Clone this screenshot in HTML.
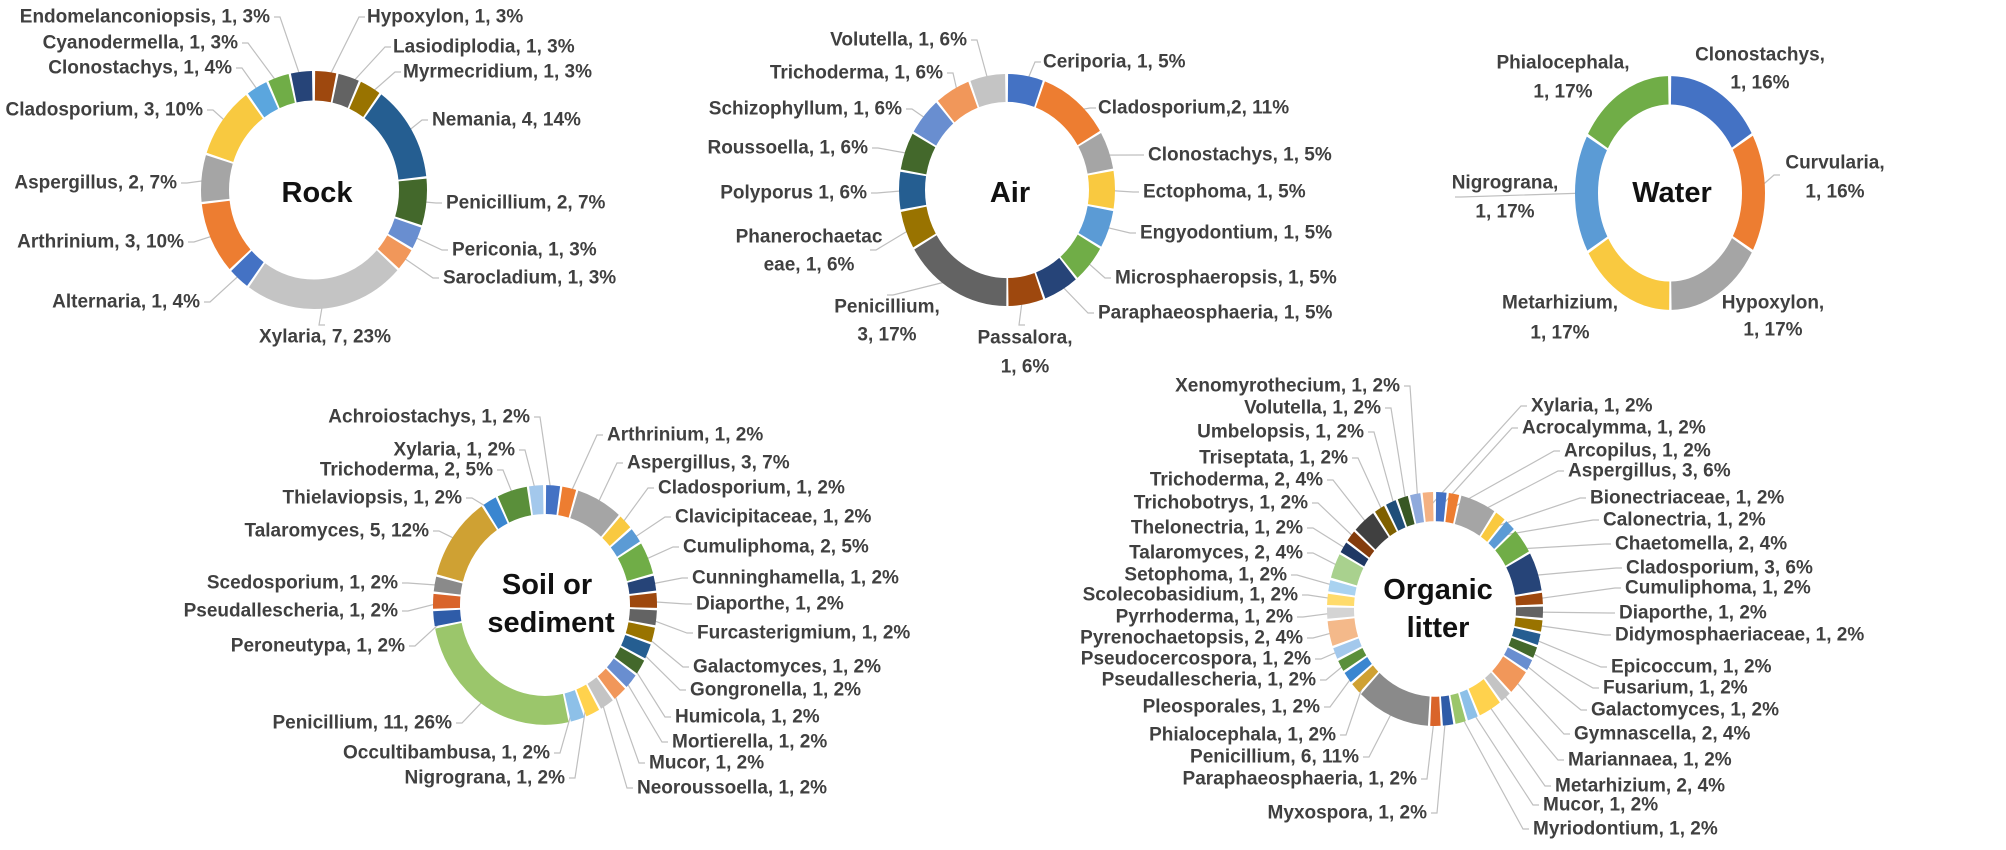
<!DOCTYPE html>
<html><head><meta charset="utf-8"><style>
html,body{margin:0;padding:0;background:#fff;}
svg{display:block;}
text{font-family:"Liberation Sans",sans-serif;font-weight:bold;font-size:19px;fill:#404040;dominant-baseline:central;}
.t{font-size:29px;fill:#111;text-anchor:middle;}
.e{text-anchor:end;}
.m{text-anchor:middle;}
circle{fill:none;}
</style></head><body>
<svg id="s" width="2006" height="850" viewBox="0 0 2006 850" xmlns="http://www.w3.org/2000/svg">
<rect width="2006" height="850" fill="#fff"/>
<g id="lines" stroke="#BFBFBF" stroke-width="1.2" fill="none"></g>

<!-- ROCK -->
<g transform="translate(314,190) scale(1,1.053) rotate(-90)" stroke-width="28">
<circle r="99" pathLength="30" stroke="#9E480E" stroke-dasharray="0.9 30" stroke-dashoffset="-0.05"/>
<circle r="99" pathLength="30" stroke="#636363" stroke-dasharray="0.9 30" stroke-dashoffset="-1.05"/>
<circle r="99" pathLength="30" stroke="#997300" stroke-dasharray="0.9 30" stroke-dashoffset="-2.05"/>
<circle r="99" pathLength="30" stroke="#255E91" stroke-dasharray="3.9 30" stroke-dashoffset="-3.05"/>
<circle r="99" pathLength="30" stroke="#43682B" stroke-dasharray="1.9 30" stroke-dashoffset="-7.05"/>
<circle r="99" pathLength="30" stroke="#698ED0" stroke-dasharray="0.9 30" stroke-dashoffset="-9.05"/>
<circle r="99" pathLength="30" stroke="#F1975A" stroke-dasharray="0.9 30" stroke-dashoffset="-10.05"/>
<circle r="99" pathLength="30" stroke="#C4C4C4" stroke-dasharray="6.9 30" stroke-dashoffset="-11.05"/>
<circle r="99" pathLength="30" stroke="#4472C4" stroke-dasharray="0.9 30" stroke-dashoffset="-18.05"/>
<circle r="99" pathLength="30" stroke="#ED7D31" stroke-dasharray="2.9 30" stroke-dashoffset="-19.05"/>
<circle r="99" pathLength="30" stroke="#A5A5A5" stroke-dasharray="1.9 30" stroke-dashoffset="-22.05"/>
<circle r="99" pathLength="30" stroke="#F8C940" stroke-dasharray="2.9 30" stroke-dashoffset="-24.05"/>
<circle r="99" pathLength="30" stroke="#5BA6DE" stroke-dasharray="0.9 30" stroke-dashoffset="-27.05"/>
<circle r="99" pathLength="30" stroke="#70AD47" stroke-dasharray="0.9 30" stroke-dashoffset="-28.05"/>
<circle r="99" pathLength="30" stroke="#264478" stroke-dasharray="0.9 30" stroke-dashoffset="-29.05"/>
</g>
<text class="t" x="317" y="193">Rock</text>
<text class="e" x="270" y="17">Endomelanconiopsis, 1, 3%</text>
<text class="e" x="238" y="43">Cyanodermella, 1, 3%</text>
<text class="e" x="232" y="68">Clonostachys, 1, 4%</text>
<text class="e" x="203" y="110">Cladosporium, 3, 10%</text>
<text class="e" x="177" y="183">Aspergillus, 2, 7%</text>
<text class="e" x="184" y="242">Arthrinium, 3, 10%</text>
<text class="e" x="200" y="302">Alternaria, 1, 4%</text>
<text class="m" x="325" y="337">Xylaria, 7, 23%</text>
<text x="367" y="17">Hypoxylon, 1, 3%</text>
<text x="393" y="47">Lasiodiplodia, 1, 3%</text>
<text x="403" y="72">Myrmecridium, 1, 3%</text>
<text x="432" y="120">Nemania, 4, 14%</text>
<text x="446" y="203">Penicillium,  2, 7%</text>
<text x="452" y="250">Periconia, 1, 3%</text>
<text x="443" y="278">Sarocladium, 1, 3%</text>

<!-- AIR -->
<g transform="translate(1007,190) scale(1,1.074) rotate(-90)" stroke-width="26">
<circle r="95" pathLength="18" stroke="#4472C4" stroke-dasharray="0.94 18" stroke-dashoffset="-0.03"/>
<circle r="95" pathLength="18" stroke="#ED7D31" stroke-dasharray="1.94 18" stroke-dashoffset="-1.03"/>
<circle r="95" pathLength="18" stroke="#A5A5A5" stroke-dasharray="0.94 18" stroke-dashoffset="-3.03"/>
<circle r="95" pathLength="18" stroke="#F9C940" stroke-dasharray="0.94 18" stroke-dashoffset="-4.03"/>
<circle r="95" pathLength="18" stroke="#5B9BD5" stroke-dasharray="0.94 18" stroke-dashoffset="-5.03"/>
<circle r="95" pathLength="18" stroke="#70AD47" stroke-dasharray="0.94 18" stroke-dashoffset="-6.03"/>
<circle r="95" pathLength="18" stroke="#264478" stroke-dasharray="0.94 18" stroke-dashoffset="-7.03"/>
<circle r="95" pathLength="18" stroke="#9E480E" stroke-dasharray="0.94 18" stroke-dashoffset="-8.03"/>
<circle r="95" pathLength="18" stroke="#636363" stroke-dasharray="2.94 18" stroke-dashoffset="-9.03"/>
<circle r="95" pathLength="18" stroke="#997300" stroke-dasharray="0.94 18" stroke-dashoffset="-12.03"/>
<circle r="95" pathLength="18" stroke="#255E91" stroke-dasharray="0.94 18" stroke-dashoffset="-13.03"/>
<circle r="95" pathLength="18" stroke="#43682B" stroke-dasharray="0.94 18" stroke-dashoffset="-14.03"/>
<circle r="95" pathLength="18" stroke="#698ED0" stroke-dasharray="0.94 18" stroke-dashoffset="-15.03"/>
<circle r="95" pathLength="18" stroke="#F1975A" stroke-dasharray="0.94 18" stroke-dashoffset="-16.03"/>
<circle r="95" pathLength="18" stroke="#C4C4C4" stroke-dasharray="0.94 18" stroke-dashoffset="-17.03"/>
</g>
<text class="t" x="1010" y="193">Air</text>
<text class="e" x="967" y="40">Volutella, 1, 6%</text>
<text class="e" x="943" y="73">Trichoderma, 1, 6%</text>
<text class="e" x="902" y="109">Schizophyllum, 1, 6%</text>
<text class="e" x="868" y="148">Roussoella, 1, 6%</text>
<text class="e" x="867" y="193">Polyporus 1, 6%</text>
<text class="m" x="809" y="237">Phanerochaetac</text>
<text class="m" x="809" y="265">eae,  1, 6%</text>
<text class="m" x="887" y="307">Penicillium,</text>
<text class="m" x="887" y="335">3, 17%</text>
<text class="m" x="1025" y="338">Passalora,</text>
<text class="m" x="1025" y="367">1, 6%</text>
<text x="1043" y="62">Ceriporia, 1, 5%</text>
<text x="1098" y="108">Cladosporium,2, 11%</text>
<text x="1148" y="155">Clonostachys,  1, 5%</text>
<text x="1143" y="192">Ectophoma, 1, 5%</text>
<text x="1140" y="233">Engyodontium, 1, 5%</text>
<text x="1115" y="278">Microsphaeropsis, 1, 5%</text>
<text x="1098" y="313">Paraphaeosphaeria, 1, 5%</text>

<!-- WATER -->
<g transform="translate(1670,193) scale(1,1.23) rotate(-90)" stroke-width="23">
<circle r="83.5" pathLength="6" stroke="#4472C4" stroke-dasharray="0.975 6" stroke-dashoffset="-0.0125"/>
<circle r="83.5" pathLength="6" stroke="#ED7D31" stroke-dasharray="0.975 6" stroke-dashoffset="-1.0125"/>
<circle r="83.5" pathLength="6" stroke="#A5A5A5" stroke-dasharray="0.975 6" stroke-dashoffset="-2.0125"/>
<circle r="83.5" pathLength="6" stroke="#F9C940" stroke-dasharray="0.975 6" stroke-dashoffset="-3.0125"/>
<circle r="83.5" pathLength="6" stroke="#5B9BD5" stroke-dasharray="0.975 6" stroke-dashoffset="-4.0125"/>
<circle r="83.5" pathLength="6" stroke="#70AD47" stroke-dasharray="0.975 6" stroke-dashoffset="-5.0125"/>
</g>
<text class="t" x="1672" y="193">Water</text>
<text class="m" x="1563" y="63">Phialocephala,</text>
<text class="m" x="1563" y="92">1, 17%</text>
<text class="m" x="1760" y="55">Clonostachys,</text>
<text class="m" x="1760" y="83">1, 16%</text>
<text class="m" x="1835" y="163">Curvularia,</text>
<text class="m" x="1835" y="192">1, 16%</text>
<text class="m" x="1505" y="183">Nigrograna,</text>
<text class="m" x="1505" y="212">1, 17%</text>
<text class="m" x="1560" y="303">Metarhizium,</text>
<text class="m" x="1560" y="333">1, 17%</text>
<text class="m" x="1773" y="303">Hypoxylon,</text>
<text class="m" x="1773" y="330">1, 17%</text>

<!-- SOIL -->
<g transform="translate(545,605) scale(1,1.07) rotate(-90)" stroke-width="27">
<circle r="98.5" pathLength="43" stroke="#4472C4" stroke-dasharray="0.86 43" stroke-dashoffset="-0.07"/>
<circle r="98.5" pathLength="43" stroke="#ED7D31" stroke-dasharray="0.86 43" stroke-dashoffset="-1.07"/>
<circle r="98.5" pathLength="43" stroke="#A5A5A5" stroke-dasharray="2.86 43" stroke-dashoffset="-2.07"/>
<circle r="98.5" pathLength="43" stroke="#F9C940" stroke-dasharray="0.86 43" stroke-dashoffset="-5.07"/>
<circle r="98.5" pathLength="43" stroke="#5B9BD5" stroke-dasharray="0.86 43" stroke-dashoffset="-6.07"/>
<circle r="98.5" pathLength="43" stroke="#70AD47" stroke-dasharray="1.86 43" stroke-dashoffset="-7.07"/>
<circle r="98.5" pathLength="43" stroke="#264478" stroke-dasharray="0.86 43" stroke-dashoffset="-9.07"/>
<circle r="98.5" pathLength="43" stroke="#9E480E" stroke-dasharray="0.86 43" stroke-dashoffset="-10.07"/>
<circle r="98.5" pathLength="43" stroke="#636363" stroke-dasharray="0.86 43" stroke-dashoffset="-11.07"/>
<circle r="98.5" pathLength="43" stroke="#997300" stroke-dasharray="0.86 43" stroke-dashoffset="-12.07"/>
<circle r="98.5" pathLength="43" stroke="#255E91" stroke-dasharray="0.86 43" stroke-dashoffset="-13.07"/>
<circle r="98.5" pathLength="43" stroke="#43682B" stroke-dasharray="0.86 43" stroke-dashoffset="-14.07"/>
<circle r="98.5" pathLength="43" stroke="#698ED0" stroke-dasharray="0.86 43" stroke-dashoffset="-15.07"/>
<circle r="98.5" pathLength="43" stroke="#F1975A" stroke-dasharray="0.86 43" stroke-dashoffset="-16.07"/>
<circle r="98.5" pathLength="43" stroke="#C4C4C4" stroke-dasharray="0.86 43" stroke-dashoffset="-17.07"/>
<circle r="98.5" pathLength="43" stroke="#FFD24D" stroke-dasharray="0.86 43" stroke-dashoffset="-18.07"/>
<circle r="98.5" pathLength="43" stroke="#8DC0E8" stroke-dasharray="0.86 43" stroke-dashoffset="-19.07"/>
<circle r="98.5" pathLength="43" stroke="#9BC66B" stroke-dasharray="10.86 43" stroke-dashoffset="-20.07"/>
<circle r="98.5" pathLength="43" stroke="#2F5CA8" stroke-dasharray="0.86 43" stroke-dashoffset="-31.07"/>
<circle r="98.5" pathLength="43" stroke="#D9642A" stroke-dasharray="0.86 43" stroke-dashoffset="-32.07"/>
<circle r="98.5" pathLength="43" stroke="#8A8A8A" stroke-dasharray="0.86 43" stroke-dashoffset="-33.07"/>
<circle r="98.5" pathLength="43" stroke="#CFA133" stroke-dasharray="4.86 43" stroke-dashoffset="-34.07"/>
<circle r="98.5" pathLength="43" stroke="#3A86D0" stroke-dasharray="0.86 43" stroke-dashoffset="-39.07"/>
<circle r="98.5" pathLength="43" stroke="#5A8F3A" stroke-dasharray="1.86 43" stroke-dashoffset="-40.07"/>
<circle r="98.5" pathLength="43" stroke="#A3C8EC" stroke-dasharray="0.86 43" stroke-dashoffset="-42.07"/>
</g>
<text class="t" x="547" y="585">Soil or</text>
<text class="t" x="551" y="623">sediment</text>
<text class="e" x="530" y="417">Achroiostachys, 1, 2%</text>
<text class="e" x="515" y="450">Xylaria, 1, 2%</text>
<text class="e" x="493" y="470">Trichoderma, 2, 5%</text>
<text class="e" x="462" y="498">Thielaviopsis, 1, 2%</text>
<text class="e" x="429" y="531">Talaromyces, 5, 12%</text>
<text class="e" x="398" y="583">Scedosporium, 1, 2%</text>
<text class="e" x="398" y="611">Pseudallescheria, 1, 2%</text>
<text class="e" x="405" y="646">Peroneutypa, 1, 2%</text>
<text class="e" x="452" y="723">Penicillium, 11, 26%</text>
<text class="e" x="550" y="753">Occultibambusa, 1, 2%</text>
<text class="e" x="565" y="778">Nigrograna, 1, 2%</text>
<text x="607" y="435">Arthrinium, 1, 2%</text>
<text x="627" y="463">Aspergillus, 3, 7%</text>
<text x="658" y="488">Cladosporium, 1, 2%</text>
<text x="675" y="517">Clavicipitaceae, 1, 2%</text>
<text x="683" y="547">Cumuliphoma, 2, 5%</text>
<text x="692" y="578">Cunninghamella, 1, 2%</text>
<text x="696" y="604">Diaporthe, 1, 2%</text>
<text x="697" y="633">Furcasterigmium, 1, 2%</text>
<text x="693" y="667">Galactomyces, 1, 2%</text>
<text x="690" y="690">Gongronella, 1, 2%</text>
<text x="675" y="717">Humicola, 1, 2%</text>
<text x="672" y="742">Mortierella, 1, 2%</text>
<text x="649" y="763">Mucor, 1, 2%</text>
<text x="637" y="788">Neoroussoella, 1, 2%</text>

<!-- ORGANIC -->
<g transform="translate(1435,609) scale(1,1.083) rotate(-90)" stroke-width="27">
<circle r="94.5" pathLength="53" stroke="#4472C4" stroke-dasharray="0.82 53" stroke-dashoffset="-0.09"/>
<circle r="94.5" pathLength="53" stroke="#ED7D31" stroke-dasharray="0.82 53" stroke-dashoffset="-1.09"/>
<circle r="94.5" pathLength="53" stroke="#A5A5A5" stroke-dasharray="2.82 53" stroke-dashoffset="-2.09"/>
<circle r="94.5" pathLength="53" stroke="#F9C940" stroke-dasharray="0.82 53" stroke-dashoffset="-5.09"/>
<circle r="94.5" pathLength="53" stroke="#5B9BD5" stroke-dasharray="0.82 53" stroke-dashoffset="-6.09"/>
<circle r="94.5" pathLength="53" stroke="#70AD47" stroke-dasharray="1.82 53" stroke-dashoffset="-7.09"/>
<circle r="94.5" pathLength="53" stroke="#264478" stroke-dasharray="2.82 53" stroke-dashoffset="-9.09"/>
<circle r="94.5" pathLength="53" stroke="#9E480E" stroke-dasharray="0.82 53" stroke-dashoffset="-12.09"/>
<circle r="94.5" pathLength="53" stroke="#636363" stroke-dasharray="0.82 53" stroke-dashoffset="-13.09"/>
<circle r="94.5" pathLength="53" stroke="#997300" stroke-dasharray="0.82 53" stroke-dashoffset="-14.09"/>
<circle r="94.5" pathLength="53" stroke="#255E91" stroke-dasharray="0.82 53" stroke-dashoffset="-15.09"/>
<circle r="94.5" pathLength="53" stroke="#43682B" stroke-dasharray="0.82 53" stroke-dashoffset="-16.09"/>
<circle r="94.5" pathLength="53" stroke="#698ED0" stroke-dasharray="0.82 53" stroke-dashoffset="-17.09"/>
<circle r="94.5" pathLength="53" stroke="#F1975A" stroke-dasharray="1.82 53" stroke-dashoffset="-18.09"/>
<circle r="94.5" pathLength="53" stroke="#C4C4C4" stroke-dasharray="0.82 53" stroke-dashoffset="-20.09"/>
<circle r="94.5" pathLength="53" stroke="#FFD24D" stroke-dasharray="1.82 53" stroke-dashoffset="-21.09"/>
<circle r="94.5" pathLength="53" stroke="#8DC0E8" stroke-dasharray="0.82 53" stroke-dashoffset="-23.09"/>
<circle r="94.5" pathLength="53" stroke="#9BC66B" stroke-dasharray="0.82 53" stroke-dashoffset="-24.09"/>
<circle r="94.5" pathLength="53" stroke="#2F5CA8" stroke-dasharray="0.82 53" stroke-dashoffset="-25.09"/>
<circle r="94.5" pathLength="53" stroke="#D9642A" stroke-dasharray="0.82 53" stroke-dashoffset="-26.09"/>
<circle r="94.5" pathLength="53" stroke="#8A8A8A" stroke-dasharray="5.82 53" stroke-dashoffset="-27.09"/>
<circle r="94.5" pathLength="53" stroke="#CFA133" stroke-dasharray="0.82 53" stroke-dashoffset="-33.09"/>
<circle r="94.5" pathLength="53" stroke="#3A86D0" stroke-dasharray="0.82 53" stroke-dashoffset="-34.09"/>
<circle r="94.5" pathLength="53" stroke="#5A8F3A" stroke-dasharray="0.82 53" stroke-dashoffset="-35.09"/>
<circle r="94.5" pathLength="53" stroke="#A3C8EC" stroke-dasharray="0.82 53" stroke-dashoffset="-36.09"/>
<circle r="94.5" pathLength="53" stroke="#F4B98A" stroke-dasharray="1.82 53" stroke-dashoffset="-37.09"/>
<circle r="94.5" pathLength="53" stroke="#D4D4D4" stroke-dasharray="0.82 53" stroke-dashoffset="-39.09"/>
<circle r="94.5" pathLength="53" stroke="#FFDB6B" stroke-dasharray="0.82 53" stroke-dashoffset="-40.09"/>
<circle r="94.5" pathLength="53" stroke="#A9D2F0" stroke-dasharray="0.82 53" stroke-dashoffset="-41.09"/>
<circle r="94.5" pathLength="53" stroke="#A9D18E" stroke-dasharray="1.82 53" stroke-dashoffset="-42.09"/>
<circle r="94.5" pathLength="53" stroke="#1F3864" stroke-dasharray="0.82 53" stroke-dashoffset="-44.09"/>
<circle r="94.5" pathLength="53" stroke="#843C0C" stroke-dasharray="0.82 53" stroke-dashoffset="-45.09"/>
<circle r="94.5" pathLength="53" stroke="#404040" stroke-dasharray="1.82 53" stroke-dashoffset="-46.09"/>
<circle r="94.5" pathLength="53" stroke="#7F6000" stroke-dasharray="0.82 53" stroke-dashoffset="-48.09"/>
<circle r="94.5" pathLength="53" stroke="#1F4E79" stroke-dasharray="0.82 53" stroke-dashoffset="-49.09"/>
<circle r="94.5" pathLength="53" stroke="#385723" stroke-dasharray="0.82 53" stroke-dashoffset="-50.09"/>
<circle r="94.5" pathLength="53" stroke="#8FAADC" stroke-dasharray="0.82 53" stroke-dashoffset="-51.09"/>
<circle r="94.5" pathLength="53" stroke="#F4B183" stroke-dasharray="0.82 53" stroke-dashoffset="-52.09"/>
</g>
<text class="t" x="1438" y="590">Organic</text>
<text class="t" x="1438" y="628">litter</text>
<text class="e" x="1400" y="386">Xenomyrothecium, 1, 2%</text>
<text class="e" x="1381" y="408">Volutella, 1, 2%</text>
<text class="e" x="1364" y="432">Umbelopsis, 1, 2%</text>
<text class="e" x="1348" y="458">Triseptata, 1, 2%</text>
<text class="e" x="1323" y="480">Trichoderma, 2, 4%</text>
<text class="e" x="1308" y="503">Trichobotrys, 1, 2%</text>
<text class="e" x="1303" y="528">Thelonectria, 1, 2%</text>
<text class="e" x="1303" y="553">Talaromyces, 2, 4%</text>
<text class="e" x="1287" y="575">Setophoma, 1, 2%</text>
<text class="e" x="1298" y="595">Scolecobasidium, 1, 2%</text>
<text class="e" x="1293" y="617">Pyrrhoderma, 1, 2%</text>
<text class="e" x="1303" y="638">Pyrenochaetopsis, 2, 4%</text>
<text class="e" x="1311" y="659">Pseudocercospora, 1, 2%</text>
<text class="e" x="1316" y="680">Pseudallescheria, 1, 2%</text>
<text class="e" x="1320" y="707">Pleosporales, 1, 2%</text>
<text class="e" x="1336" y="735">Phialocephala, 1, 2%</text>
<text class="e" x="1359" y="757">Penicillium, 6, 11%</text>
<text class="e" x="1417" y="779">Paraphaeosphaeria, 1, 2%</text>
<text class="e" x="1427" y="813">Myxospora, 1, 2%</text>
<text x="1531" y="406">Xylaria, 1, 2%</text>
<text x="1522" y="428">Acrocalymma, 1, 2%</text>
<text x="1564" y="451">Arcopilus, 1, 2%</text>
<text x="1568" y="471">Aspergillus, 3, 6%</text>
<text x="1590" y="498">Bionectriaceae, 1, 2%</text>
<text x="1603" y="520">Calonectria, 1, 2%</text>
<text x="1615" y="544">Chaetomella, 2, 4%</text>
<text x="1626" y="568">Cladosporium, 3, 6%</text>
<text x="1625" y="588">Cumuliphoma, 1, 2%</text>
<text x="1619" y="613">Diaporthe, 1, 2%</text>
<text x="1615" y="635">Didymosphaeriaceae, 1, 2%</text>
<text x="1611" y="667">Epicoccum, 1, 2%</text>
<text x="1603" y="688">Fusarium, 1, 2%</text>
<text x="1591" y="710">Galactomyces, 1, 2%</text>
<text x="1574" y="734">Gymnascella, 2, 4%</text>
<text x="1568" y="760">Mariannaea, 1, 2%</text>
<text x="1555" y="786">Metarhizium, 2, 4%</text>
<text x="1543" y="805">Mucor, 1, 2%</text>
<text x="1533" y="829">Myriodontium, 1, 2%</text>
</svg>
<script>
(function(){
// charts: cx,cy,rmid,k,total, segments [start,len], label anchors (x,y) in same order
var C=[
 [314,190,99,1.053,30,[[0,1],[1,1],[2,1],[3,4],[7,2],[9,1],[10,1],[11,7],[18,1],[19,3],[22,2],[24,3],[27,1],[28,1],[29,1]],
  [[365,17],[391,47],[401,72],[428,120],[442,203],[448,250],[439,278],[325,325],[204,302],[188,242],[181,183],[207,110],[236,68],[242,43],[274,17]]],
 [1007,190,95,1.074,18,[[0,1],[1,2],[3,1],[4,1],[5,1],[6,1],[7,1],[8,1],[9,3],[12,1],[13,1],[14,1],[15,1],[16,1],[17,1]],
  [[1041,62],[1096,108],[1144,155],[1139,192],[1136,233],[1111,278],[1094,313],[1025,325],[887,295],[870,250],[871,193],[872,148],[906,109],[947,73],[971,40]]],
 [1670,193,83.5,1.23,6,[[1,1],[4,1]],[[1780,175],[1455,197]]],
 [545,605,98.5,1.07,43,[[0,1],[1,1],[2,3],[5,1],[6,1],[7,2],[9,1],[10,1],[11,1],[12,1],[13,1],[14,1],[15,1],[16,1],[17,1],[18,1],[19,1],[20,11],[31,1],[32,1],[33,1],[34,5],[39,1],[40,2],[42,1]],
  [[534,417],[603,435],[623,463],[654,488],[671,517],[679,547],[688,578],[692,604],[693,633],[689,667],[686,690],[671,717],[668,742],[645,763],[633,788],[569,778],[554,753],[456,723],[409,646],[402,611],[402,583],[433,531],[466,498],[497,470],[519,450]]],
 [1435,609,94.5,1.083,53,[[0,1],[1,1],[2,3],[5,1],[6,1],[7,2],[9,3],[12,1],[13,1],[14,1],[15,1],[16,1],[17,1],[18,2],[20,1],[21,2],[23,1],[24,1],[25,1],[26,1],[27,6],[33,1],[34,1],[35,1],[36,1],[37,2],[39,1],[40,1],[41,1],[42,2],[44,1],[45,1],[46,2],[48,1],[49,1],[50,1],[51,1],[52,1]],
  [[1518,428],[1560,451],[1564,471],[1586,498],[1599,520],[1611,544],[1622,568],[1621,588],[1615,613],[1611,635],[1607,667],[1599,688],[1587,710],[1570,734],[1564,760],[1551,786],[1539,805],[1529,829],[1431,813],[1421,779],[1363,757],[1340,735],[1324,707],[1320,680],[1315,659],[1307,638],[1297,617],[1302,595],[1291,575],[1307,553],[1307,528],[1312,503],[1327,480],[1352,458],[1368,432],[1385,408],[1404,386],[1527,406]]]
];
var g=document.getElementById('lines'),ns='http://www.w3.org/2000/svg';
C.forEach(function(c){
 var cx=c[0],cy=c[1],r=c[2],k=c[3],T=c[4];
 c[5].forEach(function(s,i){
  var L=c[6][i]; if(!L) return;
  var a=(s[0]+s[1]/2)/T*2*Math.PI;
  var x=cx+r*Math.sin(a), y=cy-r*k*Math.cos(a);
  var p=document.createElementNS(ns,'polyline');
  var bx=L[0]+(L[0]<x?6:-6);
  p.setAttribute('points',x+','+y+' '+bx+','+L[1]+' '+L[0]+','+L[1]);
  g.appendChild(p);
 });
});
})();
</script>
</body></html>
